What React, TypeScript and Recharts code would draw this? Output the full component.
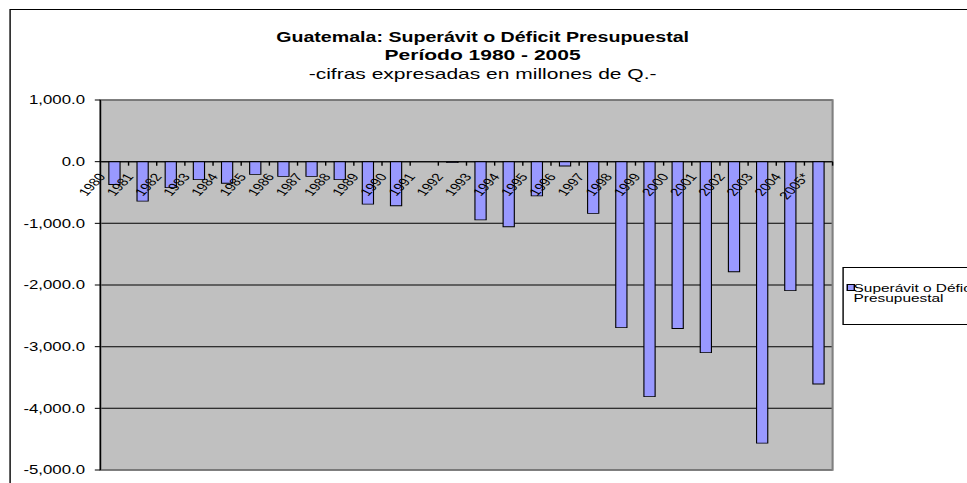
import React from "react";
import { BarChart, Bar, XAxis, YAxis, CartesianGrid, ReferenceLine, ReferenceArea, Legend } from "recharts";

// data (millones de Q.)
const years = [
  "1980", "1981", "1982", "1983", "1984", "1985", "1986", "1987", "1988", "1989",
  "1990", "1991", "1992", "1993", "1994", "1995", "1996", "1997", "1998", "1999",
  "2000", "2001", "2002", "2003", "2004", "2005*",
];
const balance = [
  -370, -640, -420, -290, -350, -205, -240, -240, -290, -690,
  -715, 0, -15, -945, -1055, -555, -70, -840, -2690, -3810,
  -2705, -3095, -1785, -4565, -2090, -3605,
];
const yTicks = [-5000, -4000, -3000, -2000, -1000, 0, 1000];

const SERIES_NAME = "Superávit o Déficit Presupuestal";
const TITLE = "Guatemala: Superávit o Déficit Presupuestal";
const SUBTITLE = "Período 1980 - 2005";
const NOTE = "-cifras expresadas en millones de Q.-";

const data = years.map((year, i) => ({ year, value: balance[i] }));

// the original is a stretched Excel picture, so the whole chart is widened
const STRETCH = 1.4;
const CHART_W = 700;
const CHART_H = 475;
const X_AXIS_H = 1;
const MARGIN = { top: 92, right: 111, bottom: 12, left: 0 };
const Y_AXIS_W = 66;
const PLOT_W = CHART_W - MARGIN.left - MARGIN.right - Y_AXIS_W;
const PLOT_H = CHART_H - MARGIN.top - MARGIN.bottom - X_AXIS_H;
const Y_MIN = -5000;
const Y_MAX = 1000;
const ZERO_Y = MARGIN.top + (PLOT_H * Y_MAX) / (Y_MAX - Y_MIN);
const BAND = PLOT_W / years.length;

const FONT = '"Liberation Sans", Arial, sans-serif';

const fmt = (v: number) =>
  v.toLocaleString("en-US", { minimumFractionDigits: 1, maximumFractionDigits: 1 });

function YearTick({ x, payload }: any) {
  const lx = x - 6;
  const ly = ZERO_Y + 15;
  return (
    <g>
      <line x1={x + BAND / 2} y1={ZERO_Y} x2={x + BAND / 2} y2={ZERO_Y + 4} stroke="#000" />
      <text
        x={lx}
        y={ly}
        transform={`rotate(-55, ${lx}, ${ly})`}
        textAnchor="end"
        fontSize={11}
        fontFamily={FONT}
        fill="#000"
      >
        {payload.value}
      </text>
    </g>
  );
}

function LegendBox({ payload }: any) {
  const item = payload && payload[0];
  return (
    <div
      style={{
        width: 150,
        height: 58,
        boxSizing: "border-box",
        border: "1px solid #000",
        background: "#fff",
        position: "relative",
        fontFamily: FONT,
        fontSize: 11,
        lineHeight: "10px",
        color: "#000",
      }}
    >
      <span
        style={{
          position: "absolute",
          left: 2,
          top: 16,
          width: 4,
          height: 5,
          background: "#9999FF",
          border: "1px solid #000",
        }}
      />
      <div style={{ position: "absolute", left: 7, top: 15, width: 95, textAlign: "left" }}>
        {item ? item.value : SERIES_NAME}
      </div>
    </div>
  );
}

export default function App() {
  return (
    <div style={{ position: "absolute", left: 0, top: 0, width: 967, height: 483, overflow: "hidden", background: "#fff" }}>
      <div
        style={{
          position: "absolute",
          left: 8,
          top: 8,
          width: CHART_W,
          height: CHART_H,
          transform: `scaleX(${STRETCH})`,
          transformOrigin: "0 0",
          fontFamily: FONT,
        }}
      >
        <div
          style={{
            position: "absolute",
            left: 1,
            top: 1,
            width: 800,
            height: 600,
            border: "1px solid #000",
            boxSizing: "border-box",
          }}
        />
        <div style={{ position: "absolute", left: 0, width: 678, top: 20, textAlign: "center", fontSize: 14, fontWeight: "bold", lineHeight: "18px" }}>
          {TITLE}
        </div>
        <div style={{ position: "absolute", left: 0, width: 678, top: 37, textAlign: "center", fontSize: 15, fontWeight: "bold", lineHeight: "19px" }}>
          {SUBTITLE}
        </div>
        <div style={{ position: "absolute", left: 0, width: 678, top: 56, textAlign: "center", fontSize: 15, lineHeight: "19px" }}>
          {NOTE}
        </div>
        <div style={{ position: "absolute", left: 0, top: 0 }}>
          <BarChart width={CHART_W} height={CHART_H} data={data} margin={MARGIN} barCategoryGap="30%">
            <CartesianGrid vertical={false} fill="#C0C0C0" stroke="#000" />
            <ReferenceArea y1={Y_MIN} y2={Y_MAX} fill="none" stroke="#808080" strokeWidth={1.5} />
            <YAxis
              width={Y_AXIS_W}
              domain={[Y_MIN, Y_MAX]}
              ticks={yTicks}
              tickFormatter={fmt}
              tickSize={4}
              tickMargin={7}
              axisLine={{ stroke: "#000" }}
              tickLine={{ stroke: "#000" }}
              tick={{ fontSize: 12, fill: "#000", fontFamily: FONT }}
            />
            <ReferenceLine y={0} stroke="#000" />
            <Bar
              dataKey="value"
              name={SERIES_NAME}
              fill="#9999FF"
              stroke="#000"
              strokeWidth={0.8}
              isAnimationActive={false}
            />
            <XAxis
              dataKey="year"
              height={X_AXIS_H}
              interval={0}
              axisLine={false}
              tickLine={false}
              tick={(props: any) => <YearTick {...props} />}
            />
            <Legend
              layout="horizontal"
              align="center"
              verticalAlign="middle"
              content={<LegendBox />}
              wrapperStyle={{ position: "absolute", left: 596, top: 259, width: 150 }}
            />
          </BarChart>
        </div>
      </div>
    </div>
  );
}
